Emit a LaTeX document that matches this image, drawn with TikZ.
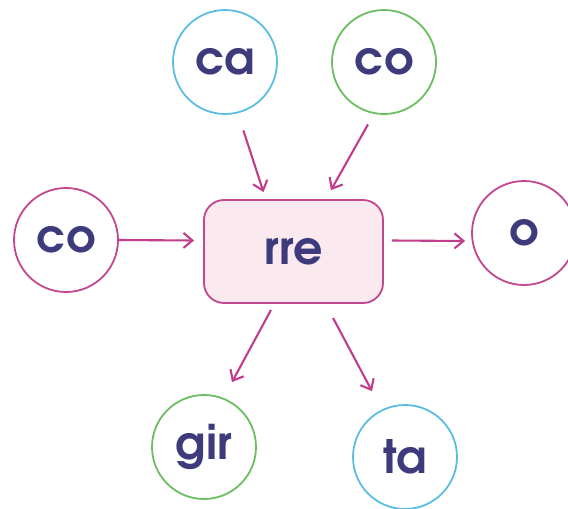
\documentclass[tikz,border=0pt]{standalone}
\usepackage{fontspec}
\setmainfont{TeX Gyre Adventor}
\usetikzlibrary{arrows.meta}
\definecolor{mag}{HTML}{C2478F}
\definecolor{arrc}{HTML}{C23C8C}
\definecolor{sky}{HTML}{5CBDE3}
\definecolor{leaf}{HTML}{6DBD62}
\definecolor{ink}{HTML}{3E3B7C}
\definecolor{boxfill}{HTML}{FBE9F0}
\begin{document}
\begin{tikzpicture}[x=1pt,y=-1pt,
  word/.style={text=ink, font=\fontsize{46}{46}\selectfont\bfseries},
  ring/.style={circle, draw, line width=1.8pt, minimum size=104pt, inner sep=0pt, fill=white, word},
  centerbox/.style={draw=mag, fill=boxfill, rounded corners=20pt, minimum width=179pt, minimum height=103pt, line width=1.8pt, inner sep=0pt, word},
  arr/.style={draw=arrc, line width=2.1pt, -{Straight Barb[length=9pt,width=15pt,line width=2.1pt]}}]
\useasboundingbox (0,0) rectangle (568,509);
\node[ring, draw=sky] (ca) at (225,62) {ca};
\node[ring, draw=leaf] (co) at (384,62) {co};
\node[ring, draw=mag] (coL) at (66,240) {co};
\node[ring, draw=mag] (o) at (524,233) {o};
\node[ring, draw=leaf] (gir) at (204,447) {gir};
\node[ring, draw=sky] (ta) at (405,457) {ta};
\node[centerbox] (rre) at (293.5,251.5) {rre};
\draw[arr, shorten <=18pt] (ca.-76) -- ([xshift=-30pt,yshift=7pt]rre.north);
\draw[arr, shorten <=12pt] (co.-101) -- ([xshift=37.5pt,yshift=9pt]rre.north);
\draw[arr] (coL.east) -- ([xshift=-9pt,yshift=11pt]rre.west);
\draw[arr] ([xshift=8pt,yshift=11pt]rre.east) -- ([xshift=-6pt,yshift=-8pt]o.west);
\draw[arr] ([xshift=-22.5pt,yshift=-6pt]rre.south) -- ([xshift=28pt,yshift=12pt]gir.north);
\draw[arr] ([xshift=39.5pt,yshift=-14pt]rre.south) -- ([xshift=-33pt,yshift=13pt]ta.north);
\end{tikzpicture}
\end{document}
